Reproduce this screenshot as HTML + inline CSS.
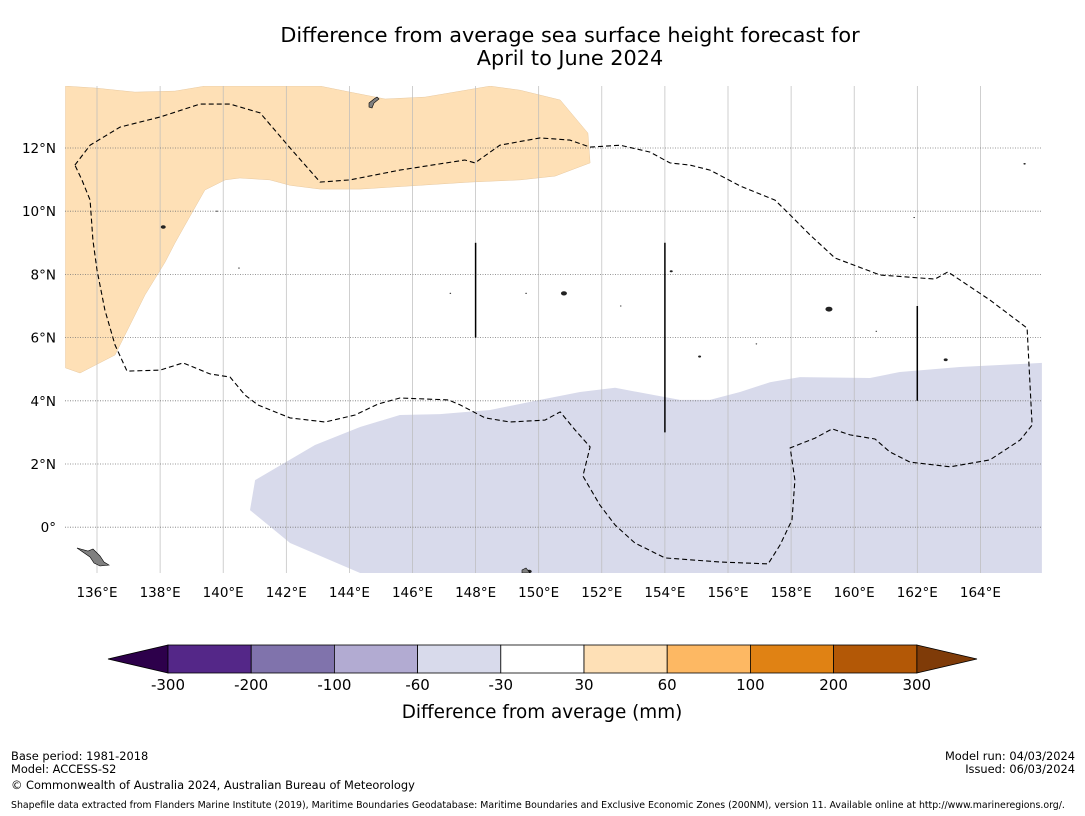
<!DOCTYPE html>
<html><head><meta charset="utf-8"><style>
body{margin:0;background:#fff;width:1085px;height:816px;overflow:hidden;font-family:"DejaVu Sans","Liberation Sans",sans-serif;}
svg{position:absolute;left:0;top:0}
</style></head><body>
<svg id="chart" width="1085" height="816" viewBox="0 0 1085 816" xmlns="http://www.w3.org/2000/svg">
<text x="570" y="42" text-anchor="middle" font-size="20.8" fill="#000">Difference from average sea surface height forecast for</text>
<text x="570" y="65" text-anchor="middle" font-size="20.8" fill="#000">April to June 2024</text>
<g id="map"></g>
<g id="cbar"></g>
<text x="542" y="718" text-anchor="middle" font-size="18.4">Difference from average (mm)</text>
<g font-size="11.4" fill="#000">
<text x="11" y="760">Base period: 1981-2018</text>
<text x="11" y="773">Model: ACCESS-S2</text>
<text x="11" y="789">© Commonwealth of Australia 2024, Australian Bureau of Meteorology</text>
<text x="1075" y="760" text-anchor="end">Model run: 04/03/2024</text>
<text x="1075" y="773" text-anchor="end">Issued: 06/03/2024</text>
<text x="11" y="808" font-size="9.4">Shapefile data extracted from Flanders Marine Institute (2019), Maritime Boundaries Geodatabase: Maritime Boundaries and Exclusive Economic Zones (200NM), version 11. Available online at http://www.marineregions.org/.</text>
</g>
</svg>
<script>
const lonTicks=[136,138,140,142,144,146,148,150,152,154,156,158,160,162,164];
const latTicks=[0,2,4,6,8,10,12];
const posLons=[135.0,135.94,137.2,138.47,139.42,143.07,144.02,145.13,146.4,148.46,149.41,150.68,151.56,151.63,150.52,149.41,147.82,146.24,144.34,143.07,142.12,141.48,140.53,140.06,139.42,138.79,138.47,138.16,137.52,136.57,135.46,135.0];
const posLats=[13.96,13.9,13.77,13.8,13.96,13.96,13.77,13.55,13.61,13.96,13.83,13.52,12.47,11.53,11.11,10.99,10.92,10.82,10.7,10.7,10.82,10.99,11.05,10.99,10.67,9.56,8.99,8.39,7.35,5.45,4.88,5.04];
const negLons=[165.95,163.35,161.45,160.5,158.28,157.33,156.38,155.43,154.48,152.42,151.31,150.04,148.46,146.87,145.6,144.34,142.91,141.01,140.85,142.12,144.34,165.95];
const negLats=[5.2,5.07,4.91,4.72,4.75,4.59,4.28,4.03,4.03,4.41,4.28,4.03,3.71,3.58,3.55,3.17,2.6,1.49,0.54,-0.5,-1.45,-1.45];
const eezLons=[135.3,135.78,136.73,138.0,139.26,140.22,141.17,142.12,143.07,144.02,145.6,147.66,147.98,148.77,150.04,150.99,151.63,152.58,153.53,154.16,154.8,155.43,156.38,157.49,157.97,158.6,159.39,160.82,162.56,162.97,164.3,165.48,165.64,165.26,164.3,163.04,161.77,161.13,160.66,159.87,159.3,158.76,157.97,158.12,158.03,157.65,157.27,155.75,154.0,153.05,152.42,151.94,151.4,151.63,151.15,150.68,150.2,149.09,148.3,147.51,147.13,145.6,144.91,144.18,143.23,142.12,141.1,140.69,140.22,139.58,138.73,138.0,136.95,136.57,136.25,136.0,135.87,135.78,135.52,135.3];
const eezLats=[11.46,12.09,12.66,12.98,13.39,13.39,13.11,12.0,10.92,10.99,11.3,11.62,11.53,12.09,12.32,12.25,12.03,12.09,11.87,11.53,11.46,11.3,10.8,10.35,9.88,9.25,8.52,7.98,7.85,8.08,7.19,6.3,3.23,2.76,2.13,1.91,2.06,2.38,2.79,2.92,3.11,2.82,2.51,1.49,0.23,-0.56,-1.16,-1.1,-0.97,-0.5,0.07,0.7,1.62,2.54,3.08,3.65,3.39,3.33,3.46,3.87,4.03,4.09,3.9,3.55,3.33,3.46,3.87,4.18,4.75,4.85,5.2,4.97,4.94,5.77,6.87,8.14,9.09,10.35,10.99,11.46];
const lineLons=[148,154,162];
const lineLat0=[6,3,4];
const lineLat1=[9,9,7];
const islandLons=[138.1,154.2,159.2,162.9,149.7,150.8,155.1,147.2,140.5,149.6,152.6,139.8,160.7,161.9,165.4,156.9];
const islandLats=[9.5,8.1,6.9,5.3,-1.4,7.4,5.4,7.4,8.2,7.4,7.0,10.0,6.2,9.8,11.5,5.8];
const islandSizes=[2.5,1.5,3.5,2,2.5,3,1.5,0.8,0.8,0.8,0.8,0.8,0.8,0.8,1.2,0.8];
const cbLabels=["-300","-200","-100","-60","-30","30","60","100","200","300"];
const cbColors=["#542788","#8073ac","#b2abd2","#d8daeb","#ffffff","#fee0b6","#fdb863","#e08214","#b35806"];
const NS="http://www.w3.org/2000/svg";
const X=lon=>97+(lon-136)*31.55, Y=lat=>148-(lat-12)*31.6;
const X0=65,X1=1042,Y0=86,Y1=573;
function mk(tag,attrs,parent){const e=document.createElementNS(NS,tag);for(const k in attrs)e.setAttribute(k,attrs[k]);parent.appendChild(e);return e;}
const map=document.getElementById('map');
const clip=mk('clipPath',{id:'mc'},map);mk('rect',{x:X0,y:Y0,width:X1-X0,height:Y1-Y0},clip);
const g=mk('g',{'clip-path':'url(#mc)'},map);
function pts(a,b){return a.map((v,i)=>X(v).toFixed(1)+','+Y(b[i]).toFixed(1)).join(' ');}
let p=mk('polygon',{points:pts(posLons,posLats),fill:'#fee0b6',stroke:'#e8c9a0','stroke-width':0.5},g);

p=mk('polygon',{points:pts(negLons,negLats),fill:'#d8daeb'},g);

lonTicks.forEach(l=>{const x=X(l);const ln=mk('line',{x1:x,x2:x,y1:Y0,y2:Y1,stroke:'#bbb','stroke-width':0.7},g);

const t=mk('text',{x:x,y:597,'text-anchor':'middle','font-size':13.5},map);t.textContent=l+'°E';
});
latTicks.forEach(l=>{const y=Y(l);const ln=mk('line',{x1:X0,x2:X1,y1:y,y2:y,stroke:'#777','stroke-width':0.8,'stroke-dasharray':'1,1.5'},g);

const t=mk('text',{x:56,y:y+5,'text-anchor':'end','font-size':13.5},map);t.textContent=l===0?'0°':l+'°N';
});
p=mk('polyline',{points:pts(eezLons,eezLats),fill:'none',stroke:'#000','stroke-width':1.1,'stroke-dasharray':'5,3'},g);

lineLons.forEach((l,i)=>{const ln=mk('line',{x1:X(l),x2:X(l),y1:Y(lineLat0[i]),y2:Y(lineLat1[i]),stroke:'#000','stroke-width':1.5},g);
});
islandLons.forEach((l,i)=>{const e=mk('ellipse',{cx:X(l),cy:Y(islandLats[i]),rx:islandSizes[i],ry:islandSizes[i]*0.7,fill:'#222'},g);
});
p=mk('polygon',{points:'369,103 374,99 377,97 379,99 374,103 372,108 369,107',fill:'#808080',stroke:'#000','stroke-width':0.6},g);

p=mk('polygon',{points:'77,548 88,551 93,549 100,556 104,562 109,565 100,566 94,563 90,557',fill:'#808080',stroke:'#000','stroke-width':0.6},g);

p=mk('polygon',{points:'522,570 526,568 530,573 522,573',fill:'#808080',stroke:'#000','stroke-width':0.6},g);

// colorbar
const cb=document.getElementById('cbar');
const cx0=168,cw=83.2,cy=645,ch=28;
p=mk('polygon',{points:`${cx0},${cy} ${cx0},${cy+ch} 108,${cy+ch/2}`,fill:'#2d004b',stroke:'#000','stroke-width':0.8},cb);

const xe=cx0+cw*cbColors.length;
p=mk('polygon',{points:`${xe},${cy} ${xe},${cy+ch} 977,${cy+ch/2}`,fill:'#7f3b08',stroke:'#000','stroke-width':0.8},cb);

cbColors.forEach((c,i)=>{const r=mk('rect',{x:cx0+i*cw,y:cy,width:cw,height:ch,fill:c,stroke:'#000','stroke-width':0.8},cb);
});
cbLabels.forEach((s,i)=>{const t=mk('text',{x:cx0+i*cw,y:690,'text-anchor':'middle','font-size':15},cb);t.textContent=s;
});
</script>
</body></html>
